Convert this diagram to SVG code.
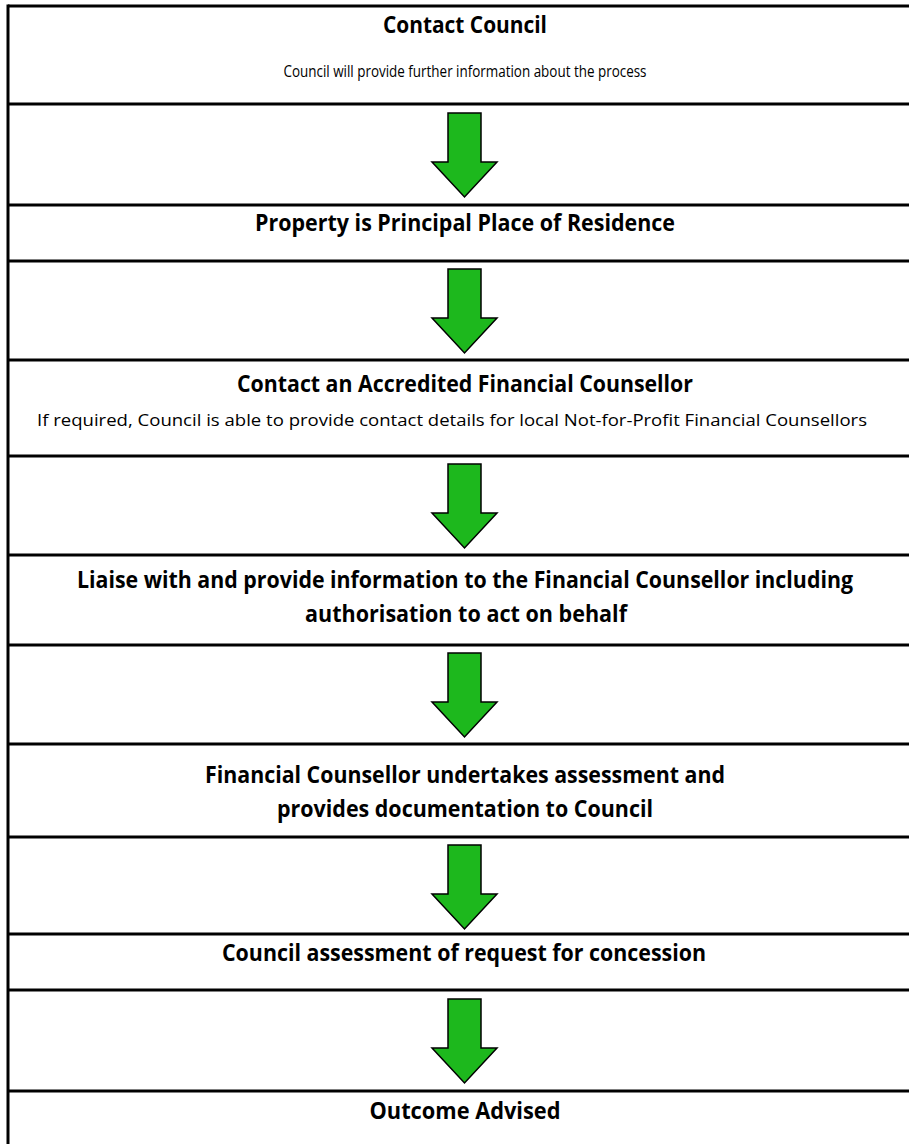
<svg xmlns="http://www.w3.org/2000/svg" width="909" height="1144" viewBox="0 0 909 1144">
<style>
  .bg { fill: #ffffff; }
  .rule { stroke: #000000; stroke-width: 3; fill: none; }
  .h { font-family: "Open Sans", "Liberation Sans", sans-serif; font-weight: bold; font-size: 23px; fill: #000000; text-anchor: middle; }
  .s { font-family: "Open Sans", "Liberation Sans", sans-serif; font-size: 17px; fill: #000000; text-anchor: middle; }
  .arrow { fill: #1db81d; stroke: #000000; stroke-width: 1.5; stroke-linejoin: miter; }
</style>
<defs>
  <polygon id="blockArrow" class="arrow" points="-16.5,0 16.5,0 16.5,49 32.5,49 0,84 -32.5,49 -16.5,49"/>
</defs>
<rect class="bg" x="0" y="0" width="909" height="1144"/>

<g id="frame">
  <line class="rule" x1="8" y1="4.5" x2="8" y2="1144"/>
</g>

<g id="node1">
  <line class="rule" x1="8" y1="6" x2="909" y2="6"/>
  <line class="rule" x1="8" y1="104" x2="909" y2="104"/>
  <text class="h" x="465" y="33" textLength="164" lengthAdjust="spacingAndGlyphs">Contact Council</text>
  <text class="s" x="465" y="77" textLength="363" lengthAdjust="spacingAndGlyphs">Council will provide further information about the process</text>
</g>

<g id="node2">
  <line class="rule" x1="8" y1="205" x2="909" y2="205"/>
  <line class="rule" x1="8" y1="261" x2="909" y2="261"/>
  <text class="h" x="465" y="231" textLength="420" lengthAdjust="spacingAndGlyphs">Property is Principal Place of Residence</text>
</g>

<g id="node3">
  <line class="rule" x1="8" y1="360" x2="909" y2="360"/>
  <line class="rule" x1="8" y1="456" x2="909" y2="456"/>
  <text class="h" x="465" y="392" textLength="456" lengthAdjust="spacingAndGlyphs">Contact an Accredited Financial Counsellor</text>
  <text class="s" x="452" y="426" textLength="830" lengthAdjust="spacingAndGlyphs">If required, Council is able to provide contact details for local Not-for-Profit Financial Counsellors</text>
</g>

<g id="node4">
  <line class="rule" x1="8" y1="555" x2="909" y2="555"/>
  <line class="rule" x1="8" y1="645" x2="909" y2="645"/>
  <text class="h" x="465" y="588" textLength="776" lengthAdjust="spacingAndGlyphs">Liaise with and provide information to the Financial Counsellor including</text>
  <text class="h" x="466" y="622" textLength="322" lengthAdjust="spacingAndGlyphs">authorisation to act on behalf</text>
</g>

<g id="node5">
  <line class="rule" x1="8" y1="744" x2="909" y2="744"/>
  <line class="rule" x1="8" y1="837" x2="909" y2="837"/>
  <text class="h" x="465" y="783" textLength="520" lengthAdjust="spacingAndGlyphs">Financial Counsellor undertakes assessment and</text>
  <text class="h" x="465" y="817" textLength="376" lengthAdjust="spacingAndGlyphs">provides documentation to Council</text>
</g>

<g id="node6">
  <line class="rule" x1="8" y1="934" x2="909" y2="934"/>
  <line class="rule" x1="8" y1="990" x2="909" y2="990"/>
  <text class="h" x="464" y="961" textLength="484" lengthAdjust="spacingAndGlyphs">Council assessment of request for concession</text>
</g>

<g id="node7">
  <line class="rule" x1="8" y1="1091" x2="909" y2="1091"/>
  <text class="h" x="465" y="1119" textLength="191" lengthAdjust="spacingAndGlyphs">Outcome Advised</text>
</g>

<g id="connectors">
  <use href="#blockArrow" x="464.5" y="113"/>
  <use href="#blockArrow" x="464.5" y="269"/>
  <use href="#blockArrow" x="464.5" y="464"/>
  <use href="#blockArrow" x="464.5" y="653"/>
  <use href="#blockArrow" x="464.5" y="845"/>
  <use href="#blockArrow" x="464.5" y="999"/>
</g>
</svg>
